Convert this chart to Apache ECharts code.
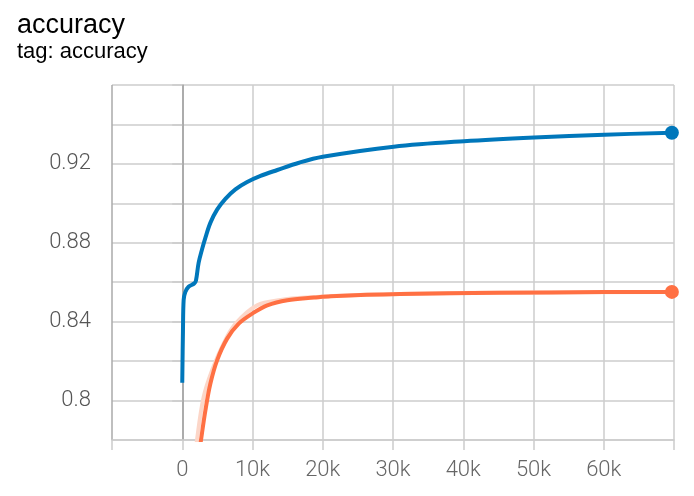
<!DOCTYPE html>
<html>
<head>
<meta charset="utf-8">
<style>
  html, body { margin: 0; padding: 0; background: #fff; }
  #main { width: 694px; height: 496px; }
</style>
<script src="https://cdn.jsdelivr.net/npm/echarts@6/dist/echarts.min.js"></script>
</head>
<body>
<div id="main"></div>
<script>
// smoothed run 1 (blue)
var blueSteps  = [0, 100, 200, 430, 900, 1710, 1950, 2330, 2810, 3290, 4000, 4960, 6140, 7570, 9240, 11140, 13530, 16620, 20000, 30100, 40100, 50100, 60100, 69700];
var blueValues = [0.809, 0.835, 0.851, 0.855, 0.8577, 0.8594, 0.8608, 0.8698, 0.8766, 0.8825, 0.8901, 0.8968, 0.9023, 0.9071, 0.9108, 0.9139, 0.9169, 0.9206, 0.9236, 0.9287, 0.9315, 0.9334, 0.9348, 0.9358];

// smoothed run 2 (orange)
var orangeSteps  = [2200, 2670, 3290, 4000, 4960, 6390, 8040, 9960, 12100, 14960, 18760, 21140, 31000, 45000, 60000, 69700];
var orangeValues = [0.768, 0.78, 0.7949, 0.8085, 0.8204, 0.8314, 0.839, 0.8441, 0.8483, 0.8509, 0.8522, 0.8529, 0.854, 0.8546, 0.855, 0.8551];

// raw run 2 (faint)
var orangeRawSteps  = [1700, 2100, 3040, 4240, 5900, 7600, 10670, 14000, 18000, 25000, 35000, 50000, 69700];
var orangeRawValues = [0.766, 0.78, 0.8017, 0.8153, 0.829, 0.839, 0.8483, 0.851, 0.8523, 0.8535, 0.8543, 0.8548, 0.8551];

var xLabelValues = [0, 10000, 20000, 30000, 40000, 50000, 60000];
var xLabelTexts  = ['0', '10k', '20k', '30k', '40k', '50k', '60k'];
var yLabelValues = [0.8, 0.84, 0.88, 0.92];
var yLabelTexts  = ['0.8', '0.84', '0.88', '0.92'];

function pairs(xs, ys) {
    return xs.map(function (x, i) { return [x, ys[i]]; });
}

var chart = echarts.init(document.getElementById('main'), null, {renderer: 'canvas'});

function endDot(n) {
    return function (val, params) { return params.dataIndex === n - 1 ? 14 : 0; };
}

var option = {
    backgroundColor: '#fff',
    animation: false,
    title: {
        text: 'accuracy',
        subtext: 'tag: accuracy',
        left: 12,
        top: 7,
        itemGap: 2,
        textStyle: {fontFamily: 'Liberation Sans', fontWeight: 'normal', fontSize: 27, color: '#000'},
        subtextStyle: {fontFamily: 'Liberation Sans', fontSize: 22, color: '#000'}
    },
    grid: {left: 112, right: 20, top: 85, bottom: 56},
    xAxis: {
        type: 'value',
        min: -10000,
        max: 70000,
        interval: 10000,
        axisLine: {show: true, lineStyle: {color: '#ccc', width: 1.5}},
        axisTick: {show: true, length: 10, lineStyle: {color: '#ccc', width: 1.5}},
        axisLabel: {
            margin: 19,
            fontFamily: 'Roboto',
            fontWeight: 300,
            fontSize: 22,
            color: '#666',
            formatter: function (v) {
                var i = xLabelValues.indexOf(v);
                return i < 0 ? '' : xLabelTexts[i];
            }
        },
        splitLine: {
            show: true,
            lineStyle: {
                width: 1.5,
                color: ['#aaa', '#999', '#ccc', '#ccc', '#ccc', '#ccc', '#ccc', '#ccc', '#ccc']
            }
        }
    },
    yAxis: {
        type: 'value',
        min: 0.78,
        max: 0.96,
        interval: 0.02,
        axisLine: {show: true, lineStyle: {color: '#aaa', width: 1.5}},
        axisTick: {show: true, inside: false, length: 10, lineStyle: {color: '#ccc', width: 1.5}},
        axisLabel: {
            margin: 21,
            fontFamily: 'Roboto',
            fontWeight: 300,
            fontSize: 22,
            color: '#555',
            formatter: function (v) {
                for (var i = 0; i < yLabelValues.length; i++) {
                    if (Math.abs(v - yLabelValues[i]) < 1e-6) return yLabelTexts[i];
                }
                return '';
            }
        },
        splitLine: {show: true, lineStyle: {color: '#ccc', width: 1.5}}
    },
    series: [
        {
            type: 'line',
            data: pairs(orangeRawSteps, orangeRawValues),
            smooth: 0.35,
            showSymbol: false,
            lineStyle: {color: '#fcd6c8', width: 4},
            z: 2
        },
        {
            type: 'line',
            data: pairs(orangeSteps, orangeValues),
            smooth: 0.35,
            symbol: 'circle',
            showAllSymbol: true,
            symbolSize: endDot(orangeSteps.length),
            itemStyle: {color: '#ff7043'},
            lineStyle: {color: '#ff7043', width: 4},
            z: 3
        },
        {
            type: 'line',
            data: pairs(blueSteps, blueValues),
            smooth: 0.35,
            symbol: 'circle',
            showAllSymbol: true,
            symbolSize: endDot(blueSteps.length),
            itemStyle: {color: '#0077bb'},
            lineStyle: {color: '#0077bb', width: 4},
            z: 4
        }
    ]
};
chart.setOption(option);
</script>
</body>
</html>
